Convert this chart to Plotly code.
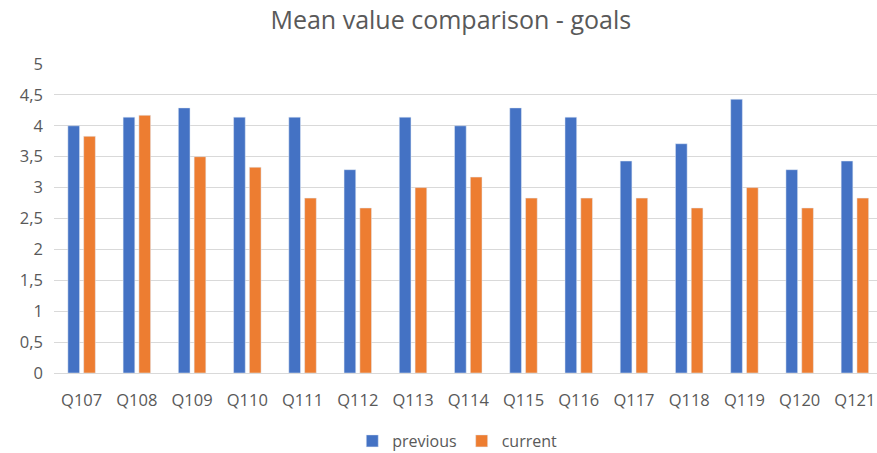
import plotly.graph_objects as go

questions = ["Q107", "Q108", "Q109", "Q110", "Q111", "Q112", "Q113", "Q114",
             "Q115", "Q116", "Q117", "Q118", "Q119", "Q120", "Q121"]
previous = [4.00, 4.14, 4.29, 4.14, 4.14, 3.29, 4.14, 4.00,
            4.29, 4.14, 3.43, 3.71, 4.43, 3.29, 3.43]
current = [3.83, 4.17, 3.50, 3.33, 2.83, 2.67, 3.00, 3.17,
           2.83, 2.83, 2.83, 2.67, 3.00, 2.67, 2.83]
y_ticks = [0, 0.5, 1, 1.5, 2, 2.5, 3, 3.5, 4, 4.5, 5]
y_tick_text = ["0", "0,5", "1", "1,5", "2", "2,5", "3", "3,5", "4", "4,5", "5"]

grey = "#595959"
font_family = "Open Sans, Liberation Sans, sans-serif"

fig = go.Figure()
fig.add_trace(go.Bar(name="previous", x=questions, y=previous, marker_color="#4472C4"))
fig.add_trace(go.Bar(name="current", x=questions, y=current, marker_color="#ED7D31"))

fig.update_layout(
    width=877, height=453,
    margin=dict(l=54, r=0, t=64, b=80, autoexpand=False),
    paper_bgcolor="white", plot_bgcolor="white",
    barmode="group", bargap=0.428, bargroupgap=0.26,
    title=dict(text="Mean value comparison - goals", x=0.514, xanchor="center",
               y=0.955, yanchor="middle",
               font=dict(family=font_family, size=25, color=grey)),
    font=dict(family=font_family, color=grey, size=16),
    legend=dict(orientation="h", x=0.49, xanchor="center", y=-0.165, yanchor="top",
                font=dict(size=16, color=grey), itemwidth=30),
    showlegend=True,
)
fig.update_xaxes(range=[-0.5, 14.4], showgrid=False, showline=True, linecolor="#d9d9d9",
                 linewidth=1, ticks="", ticklabelstandoff=12, automargin=False,
                 tickfont=dict(size=16.5, color=grey))
fig.update_yaxes(range=[0, 5], tickvals=y_ticks, ticktext=y_tick_text, showgrid=True,
                 gridcolor="#d9d9d9", gridwidth=1, zeroline=False, showline=False,
                 ticks="", ticklabelstandoff=10, automargin=False,
                 tickfont=dict(size=16.5, color=grey))

fig.write_html("out.html")
